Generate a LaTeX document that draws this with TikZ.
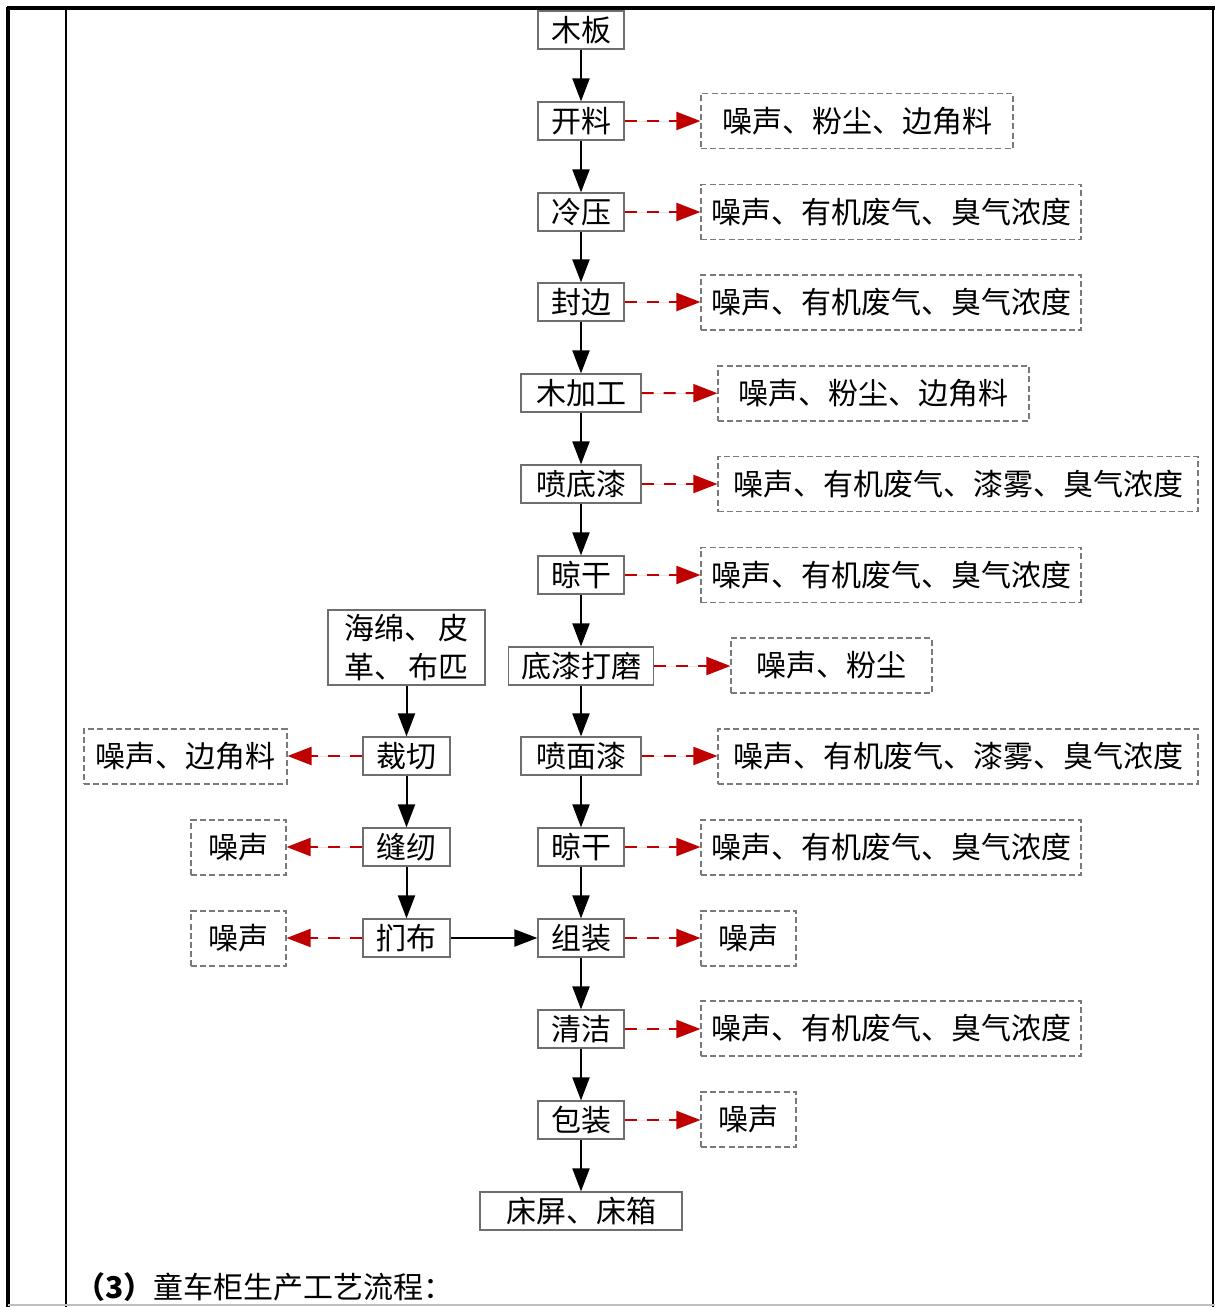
\documentclass[tikz,border=0pt]{standalone}
\usepackage{fontspec}
\setmainfont{Noto Sans CJK SC}
\usetikzlibrary{arrows.meta}
\definecolor{myred}{HTML}{C00000}
\definecolor{boxgray}{HTML}{6E6E6E}
\definecolor{dgray}{HTML}{7A7A7A}
\begin{document}
\begin{tikzpicture}[x=0.5pt,y=-0.5pt,
  font=\fontsize{15pt}{19pt}\selectfont,
  pbox/.style={draw=boxgray, line width=0.6pt, minimum height=19pt, inner sep=0pt, fill=white},
  ebox/.style={draw=dgray, dash pattern=on 3pt off 1.6pt, line width=0.55pt, minimum height=27.5pt, inner sep=0pt},
  flow/.style={-{Triangle[length=11.5pt,width=8.5pt]}, line width=1pt},
  emit/.style={-{Triangle[length=12pt,width=9pt]}, line width=1pt, draw=myred, fill=myred, dash pattern=on 6pt off 5pt}]
\useasboundingbox (0,0) rectangle (1215,1307);
% frame
\draw[line width=2pt] (7,8) -- (1215,8);
\draw[line width=2pt] (8,7) -- (8,1307);
\draw[line width=1pt] (1213,8) -- (1213,1307);
\draw[line width=0.8pt] (66,9) -- (66,1307);
\draw[line width=0.6pt, black!25] (8,1305) -- (1215,1305);
% main column
\node[pbox, minimum width=43pt] (mb) at (581,30) {木板};
\node[pbox, minimum width=43pt] (kl) at (581,121) {开料};
\node[pbox, minimum width=43pt] (ly) at (581,212) {冷压};
\node[pbox, minimum width=43pt] (fb) at (581,302) {封边};
\node[pbox, minimum width=60pt] (mjg) at (581,393) {木加工};
\node[pbox, minimum width=60pt] (pdq) at (581,484) {喷底漆};
\node[pbox, minimum width=43pt] (lg1) at (581,575) {晾干};
\node[pbox, minimum width=72.5pt] (dqdm) at (581,666) {底漆打磨};
\node[pbox, minimum width=60pt] (pmq) at (581,756) {喷面漆};
\node[pbox, minimum width=43pt] (lg2) at (581,847) {晾干};
\node[pbox, minimum width=43pt] (zz) at (581,938) {组装};
\node[pbox, minimum width=43pt] (qj) at (581,1029) {清洁};
\node[pbox, minimum width=43pt] (bz) at (581,1120) {包装};
\node[pbox, minimum width=101pt] (cp) at (581,1211) {床屏、床箱};
% left column
\node[pbox, minimum width=78.5pt, minimum height=37.5pt, align=center, font=\fontsize{15pt}{19.5pt}\selectfont] (hm) at (406.5,647.5) {海绵、\,皮\\革、\,布匹};
\node[pbox, minimum width=43.5pt] (cq) at (406.5,756) {裁切};
\node[pbox, minimum width=43.5pt] (fr) at (406.5,847) {缝纫};
\node[pbox, minimum width=43.5pt] (mbu) at (406.5,938) {扪布};
% emission boxes right
\node[ebox, minimum width=156pt] (e1) at (857,121) {噪声、粉尘、边角料};
\node[ebox, minimum width=190pt] (e2) at (891,212) {噪声、有机废气、臭气浓度};
\node[ebox, minimum width=190pt] (e3) at (891,302.5) {噪声、有机废气、臭气浓度};
\node[ebox, minimum width=155.5pt] (e4) at (873.5,393.5) {噪声、粉尘、边角料};
\node[ebox, minimum width=240pt] (e5) at (958,484) {噪声、有机废气、漆雾、臭气浓度};
\node[ebox, minimum width=190pt] (e6) at (891,575) {噪声、有机废气、臭气浓度};
\node[ebox, minimum width=100.5pt] (e7) at (831.5,665.5) {噪声、粉尘};
\node[ebox, minimum width=240pt] (e8) at (958,756.5) {噪声、有机废气、漆雾、臭气浓度};
\node[ebox, minimum width=190pt] (e9) at (891,847.5) {噪声、有机废气、臭气浓度};
\node[ebox, minimum width=47.5pt] (e10) at (748.5,938.5) {噪声};
\node[ebox, minimum width=190pt] (e11) at (891,1028.5) {噪声、有机废气、臭气浓度};
\node[ebox, minimum width=47.5pt] (e12) at (748.5,1119.5) {噪声};
% emission boxes left
\node[ebox, minimum width=101.5pt] (l1) at (185.5,756.5) {噪声、边角料};
\node[ebox, minimum width=47.5pt] (l2) at (238.5,847.5) {噪声};
\node[ebox, minimum width=47.5pt] (l3) at (238.5,938.5) {噪声};
% flow arrows
\draw[flow] (mb) -- (kl);
\draw[flow] (kl) -- (ly);
\draw[flow] (ly) -- (fb);
\draw[flow] (fb) -- (mjg);
\draw[flow] (mjg) -- (pdq);
\draw[flow] (pdq) -- (lg1);
\draw[flow] (lg1) -- (dqdm);
\draw[flow] (dqdm) -- (pmq);
\draw[flow] (pmq) -- (lg2);
\draw[flow] (lg2) -- (zz);
\draw[flow] (zz) -- (qj);
\draw[flow] (qj) -- (bz);
\draw[flow] (bz) -- (cp);
\draw[flow] (hm) -- (cq);
\draw[flow] (cq) -- (fr);
\draw[flow] (fr) -- (mbu);
\draw[flow] (mbu) -- (zz);
% emission arrows
\draw[emit] (kl) -- (e1);
\draw[emit] (ly) -- (e2);
\draw[emit] (fb.east) -- (e3.west |- fb.east);
\draw[emit] (mjg) -- (e4);
\draw[emit] (pdq) -- (e5);
\draw[emit] (lg1) -- (e6);
\draw[emit] (dqdm.east) -- (e7.west |- dqdm.east);
\draw[emit] (pmq.east) -- (e8.west |- pmq.east);
\draw[emit] (lg2.east) -- (e9.west |- lg2.east);
\draw[emit] (zz.east) -- (e10.west |- zz.east);
\draw[emit] (qj.east) -- (e11.west |- qj.east);
\draw[emit] (bz.east) -- (e12.west |- bz.east);
\draw[emit] (cq.west) -- (l1.east |- cq.west);
\draw[emit] (fr.west) -- (l2.east |- fr.west);
\draw[emit] (mbu.west) -- (l3.east |- mbu.west);
% caption
\node[anchor=west, inner sep=0pt] (cap) at (75,1287) {{\bfseries （3）}童车柜生产工艺流程：};
\end{tikzpicture}
\end{document}
